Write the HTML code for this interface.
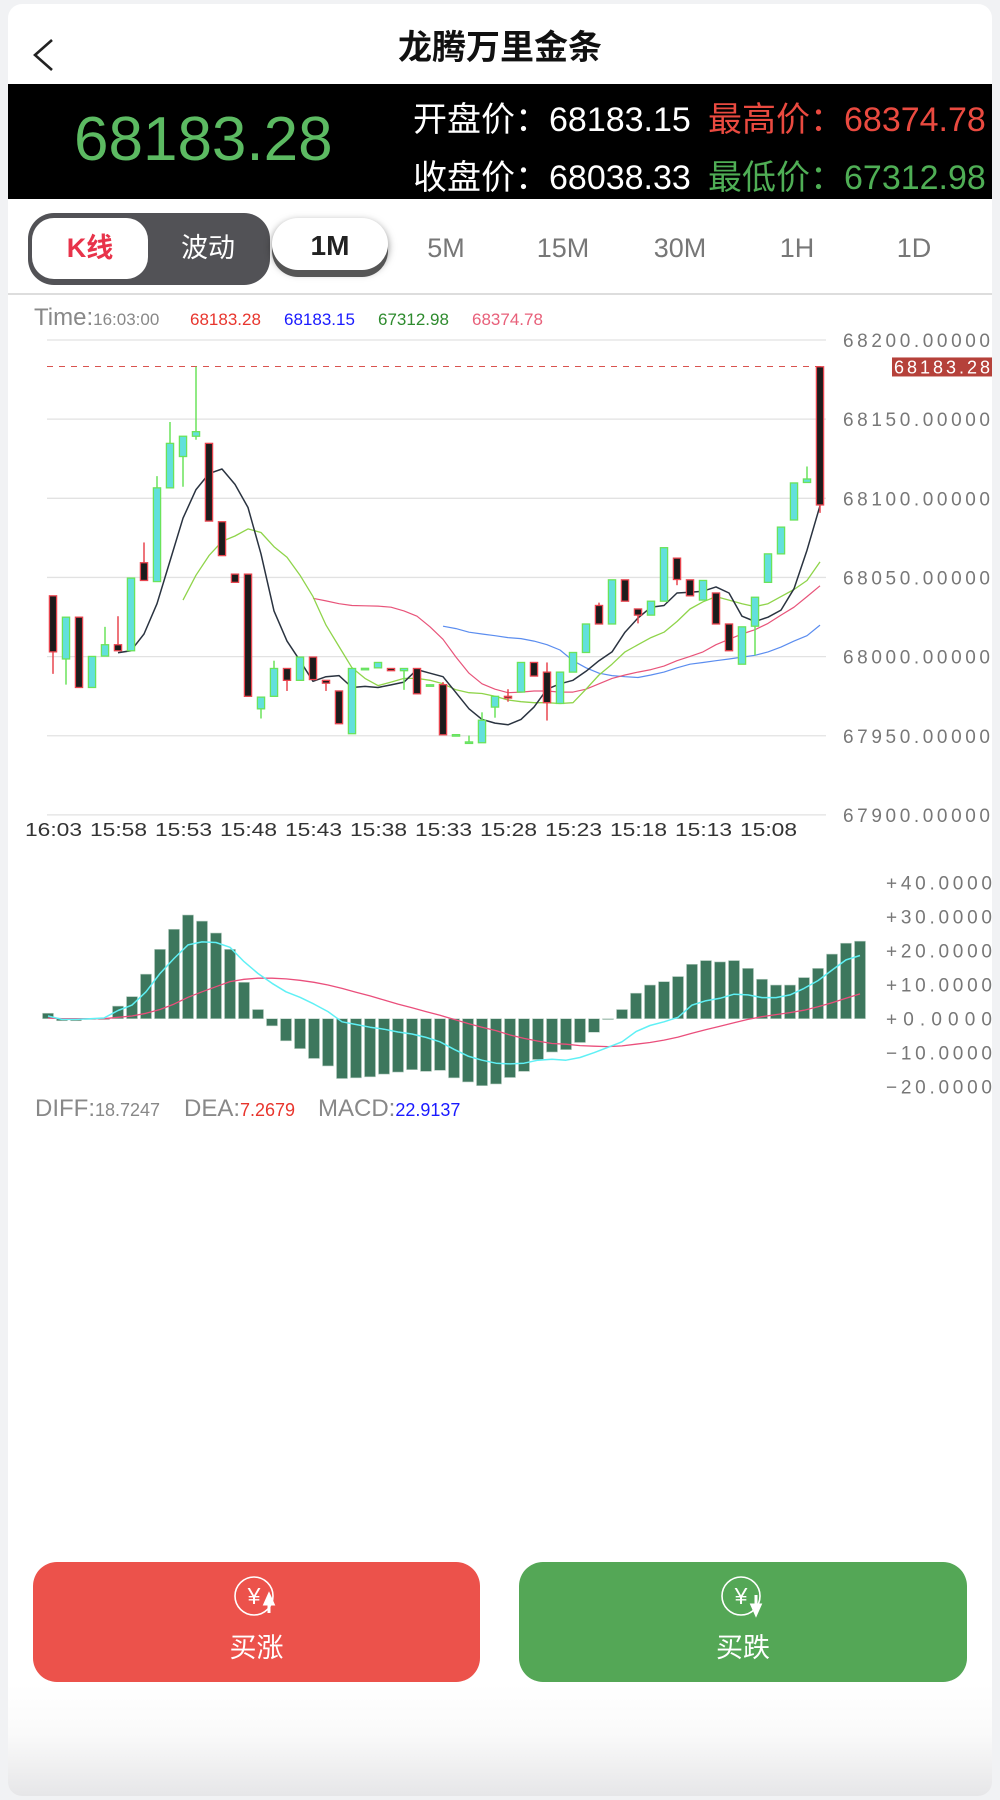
<!DOCTYPE html>
<html><head><meta charset="utf-8">
<style>
html,body{margin:0;padding:0;}
body{width:1000px;height:1800px;background:#f1f2f4;position:relative;overflow:hidden;font-family:"Liberation Sans","Noto Sans CJK SC",sans-serif;}
.card{position:absolute;left:8px;top:4px;width:984px;height:1792px;background:linear-gradient(#fff 0,#fff 1680px,#fafafa 1730px,#e6e6e8 1792px);border-radius:14px;}
.abs{position:absolute;white-space:nowrap;}
</style></head>
<body>
<div class="card"></div>
<svg class="abs" style="left:30px;top:36px" width="26" height="38"><polyline points="22,4 5,19 22,34" fill="none" stroke="#222" stroke-width="2.6"/></svg>
<div class="abs" style="left:0;width:1000px;text-align:center;top:20px;font-size:34px;font-weight:bold;color:#111;">龙腾万里金条</div>

<div class="abs" style="left:8px;top:84px;width:984px;height:115px;background:#000;"></div>
<div class="abs" style="left:74px;top:104px;font-size:62px;color:#5cba62;">68183.28</div>
<div class="abs" style="left:413px;top:92px;font-size:34px;color:#fff;">开盘价：68183.15</div>
<div class="abs" style="left:413px;top:150px;font-size:34px;color:#fff;">收盘价：68038.33</div>
<div class="abs" style="left:708px;top:92px;font-size:34px;color:#ea4a40;">最高价：68374.78</div>
<div class="abs" style="left:708px;top:150px;font-size:34px;color:#4fae55;">最低价：67312.98</div>

<div class="abs" style="left:28px;top:213px;width:242px;height:72px;background:#525256;border-radius:26px;"></div>
<div class="abs" style="left:32px;top:218px;width:116px;height:61px;background:#fff;border-radius:22px;text-align:center;line-height:61px;font-size:27px;font-weight:bold;color:#e8334a;">K线</div>
<div class="abs" style="left:150px;top:218px;width:116px;height:61px;text-align:center;line-height:61px;font-size:27px;color:#fff;">波动</div>
<div class="abs" style="left:272px;top:218px;width:116px;height:52px;background:#fff;border-radius:26px;box-shadow:0 7px 0 #555,0 3px 8px rgba(0,0,0,.5);text-align:center;line-height:56px;font-size:28px;font-weight:bold;color:#222;">1M</div>
<div class="abs" style="left:396px;width:100px;text-align:center;top:233px;font-size:27px;color:#777;">5M</div>
<div class="abs" style="left:513px;width:100px;text-align:center;top:233px;font-size:27px;color:#777;">15M</div>
<div class="abs" style="left:630px;width:100px;text-align:center;top:233px;font-size:27px;color:#777;">30M</div>
<div class="abs" style="left:747px;width:100px;text-align:center;top:233px;font-size:27px;color:#777;">1H</div>
<div class="abs" style="left:864px;width:100px;text-align:center;top:233px;font-size:27px;color:#777;">1D</div>
<div class="abs" style="left:8px;top:293px;width:984px;height:2px;background:#ddd;"></div>

<svg id="chart" class="abs" style="left:0;top:0" width="1000" height="1200">
<text x="34" y="325" font-size="24" fill="#888">Time:<tspan font-size="17">16:03:00</tspan></text>
<text x="190" y="325" font-size="17" fill="#e8352d">68183.28</text>
<text x="284" y="325" font-size="17" fill="#1a1aff">68183.15</text>
<text x="378" y="325" font-size="17" fill="#2e8b2e">67312.98</text>
<text x="472" y="325" font-size="17" fill="#e8607a">68374.78</text>
<text x="35" y="1116" font-size="24" fill="#888">DIFF:<tspan font-size="18">18.7247</tspan></text>
<text x="184" y="1116" font-size="24" fill="#888">DEA:<tspan font-size="18" fill="#e8352d">7.2679</tspan></text>
<text x="318" y="1116" font-size="24" fill="#888">MACD:<tspan font-size="18" fill="#1a1aff">22.9137</tspan></text>
</svg>

<div class="abs" style="left:33px;top:1562px;width:447px;height:120px;background:#ec524b;border-radius:24px;color:#fff;text-align:center;">
<svg width="48" height="44" style="position:absolute;left:200px;top:12px"><circle cx="21" cy="22" r="19" fill="none" stroke="#fff" stroke-width="1.6"/><text x="21" y="30" font-size="23" fill="#fff" text-anchor="middle">¥</text><path d="M36,39 V26 M32,30 L36,21 L40,30Z" stroke="#fff" stroke-width="3" fill="#fff"/></svg>
<div style="position:absolute;left:0;width:100%;top:64px;font-size:27px;">买涨</div></div>
<div class="abs" style="left:519px;top:1562px;width:448px;height:120px;background:#54a756;border-radius:24px;color:#fff;text-align:center;">
<svg width="48" height="44" style="position:absolute;left:201px;top:12px"><circle cx="21" cy="22" r="19" fill="none" stroke="#fff" stroke-width="1.6"/><text x="21" y="30" font-size="23" fill="#fff" text-anchor="middle">¥</text><path d="M36,21 V33 M32,31 L36,40 L40,31Z" stroke="#fff" stroke-width="3" fill="#fff"/></svg>
<div style="position:absolute;left:0;width:100%;top:64px;font-size:27px;">买跌</div></div>

<script>
const opens=[68038.4,67998.5,68024.9,67980.5,68000.3,68007.5,68003.7,68059.3,68047.4,68106.6,68126.4,68139.2,68134.7,68085.2,68052.1,68052.1,67967.0,67974.9,67992.5,67985.0,67999.7,67985.0,67978.3,67951.3,67992.4,67992.9,67992.5,67991.1,67992.5,67982.0,67982.3,67950.5,67945.2,67945.6,67968.1,67974.9,67977.6,67996.3,67990.2,67970.4,67990.2,68002.6,68032.3,68020.6,68048.5,68030.1,68026.2,68035.0,68062.2,68048.5,68035.7,68040.2,68020.6,67995.2,68019.2,68046.9,68064.9,68086.3,68110.0,68183.1];
const closes=[68003.0,68024.9,67980.5,68000.1,68007.5,68003.7,68049.6,68048.1,68106.6,68134.7,68139.2,68142.1,68085.6,68063.8,68046.9,67974.9,67974.4,67992.5,67985.0,67999.7,67985.5,67983.2,67957.6,67992.5,67992.6,67996.3,67991.1,67992.5,67976.5,67982.2,67950.6,67950.7,67946.1,67959.8,67974.9,67973.8,67996.3,67987.7,67970.9,67990.2,68002.6,68020.6,68020.6,68048.5,68035.0,68026.2,68035.0,68068.8,68048.7,68038.4,68048.1,68020.6,68003.7,68018.8,68037.5,68064.9,68081.8,68109.7,68112.2,68095.8];
const highs=[68038.4,68024.9,68024.9,68000.1,68018.8,68025.5,68049.6,68072.1,68114.0,68148.2,68139.2,68183.1,68134.7,68085.2,68052.1,68052.1,67974.4,67997.4,67992.5,67999.7,67999.7,67985.0,67978.3,67992.5,67992.6,67996.3,67992.5,67992.5,67992.5,67982.2,67983.9,67950.7,67950.1,67964.8,67974.9,67979.4,67996.3,67996.3,67996.3,67990.2,68002.6,68020.6,68034.1,68048.5,68048.5,68030.1,68035.0,68068.8,68062.2,68048.5,68048.1,68040.2,68020.6,68018.8,68037.5,68064.9,68081.8,68109.7,68120.1,68183.1];
const lows=[67989.1,67982.3,67980.5,67980.5,68000.3,68003.7,68003.7,68048.1,68047.4,68106.6,68107.3,68137.0,68085.6,68063.8,68046.9,67974.9,67960.9,67974.9,67978.3,67985.0,67985.5,67978.3,67957.6,67951.3,67992.4,67992.9,67991.1,67979.0,67976.5,67982.0,67950.6,67950.5,67945.2,67945.6,67961.4,67971.5,67977.6,67987.7,67959.6,67970.4,67990.2,68002.6,68020.6,68020.6,68035.0,68021.0,68026.2,68035.0,68045.1,68038.4,68035.7,68020.6,68003.7,67995.2,68000.8,68046.9,68064.9,68086.3,68110.0,68090.8];
const ma5Start=5;
const ma5=[68002.4,68003.7,68014.3,68033.4,68060.4,68087.4,68105.5,68115.6,68118.5,68108.8,68094.2,68064.9,68028.9,68009.8,67997.4,67984.4,67987.3,67988.0,67980.5,67981.2,67980.5,67982.1,67983.9,67991.8,67989.5,67987.3,67977.2,67967.0,67960.3,67958.0,67956.9,67960.3,67968.1,67979.4,67982.8,67985.0,67990.7,67997.4,68003.0,68015.4,68024.4,68031.2,68032.3,68040.2,68040.6,68041.3,68044.0,68040.2,68025.5,68022.2,68024.9,68029.4,68042.9,68067.2,68095.3];
const ma10Start=10;
const ma10=[68035.7,68051.4,68063.8,68072.8,68076.2,68080.7,68078.4,68069.4,68062.7,68051.4,68037.9,68019.9,68006.4,67992.9,67986.2,67981.7,67983.9,67986.2,67986.2,67985.0,67982.8,67979.0,67977.2,67976.7,67974.9,67972.6,67971.5,67970.9,67970.9,67970.4,67970.9,67979.4,67988.4,67995.2,68003.0,68007.5,68012.0,68015.4,68022.2,68030.1,68034.6,68037.9,68035.7,68033.4,68031.6,68033.4,68037.9,68042.4,68048.1,68059.8];
const ma20Start=20;
const ma20=[68036.8,68035.2,68033.4,68032.3,68032.1,68031.9,68031.2,68028.9,68025.5,68018.8,68010.9,67999.7,67989.5,67982.8,67979.4,67977.2,67977.6,67978.3,67978.3,67977.6,67977.6,67979.4,67982.8,67986.2,67988.4,67990.2,67991.8,67994.0,67997.4,68000.1,68003.0,68007.5,68010.9,68014.3,68017.0,68021.0,68026.2,68031.2,68037.9,68044.7];
const ma30Start=30;
const ma30=[68019.2,68017.7,68015.4,68014.3,68013.2,68012.0,68011.4,68009.8,68007.5,68004.2,67997.4,67992.9,67989.5,67988.0,67987.3,67986.8,67988.4,67990.2,67992.9,67995.2,67996.3,67997.4,67998.5,67999.7,68000.8,68003.0,68006.0,68009.8,68013.2,68019.9];
const priceTicks=[68200,68150,68100,68050,68000,67950,67900];
const priceTickLabels=["68200.00000","68150.00000","68100.00000","68050.00000","68000.00000","67950.00000","67900.00000"];
const timeLabels=["16:03","15:58","15:53","15:48","15:43","15:38","15:33","15:28","15:23","15:18","15:13","15:08"];
const lastPrice=68183.28;
const macdHist=[1.6,-0.6,-0.6,0,0,3.7,6.5,13.1,20.4,26.3,30.5,28.7,25.2,20.4,10.7,2.7,-2.1,-6.5,-8.8,-11.7,-13.9,-17.6,-17.4,-17.1,-16.3,-15.7,-15.0,-15.5,-15.2,-17.4,-18.6,-19.7,-19.2,-17.3,-15.5,-12.0,-9.8,-9.1,-7.0,-4.0,-0.2,2.7,7.5,9.9,10.9,12.4,16.0,17.1,16.7,17.1,14.8,11.6,9.9,9.9,12.1,14.8,19.0,22.2,22.8];
const diffVals=[0.8,-0.2,-0.2,0,0.2,2.4,4.0,7.9,13.3,17.7,21.7,22.6,22.4,21.0,16.8,13.3,10.4,7.9,6.3,4.3,2.1,-0.9,-1.7,-2.5,-3.1,-3.9,-4.5,-5.5,-6.8,-9.0,-11.0,-12.2,-13.1,-13.3,-13.1,-12.2,-11.9,-12.2,-11.4,-10.0,-8.4,-6.8,-3.8,-2.0,-0.9,0.4,4.0,5.3,6.0,7.2,7.0,6.2,6.2,7.0,8.9,11.2,14.3,17.3,18.6];
const deaVals=[0.2,0,0,0,0,0.4,0.8,1.6,2.7,4.3,6.3,7.9,9.4,10.9,11.6,11.9,11.9,11.7,11.3,10.7,9.9,8.9,7.8,6.7,5.5,4.3,3.2,2.1,1.0,-0.2,-1.4,-2.5,-3.5,-4.8,-5.8,-6.6,-7.3,-7.5,-7.9,-8.1,-8.2,-8.0,-7.5,-7.0,-6.3,-5.4,-4.3,-3.2,-2.2,-1.2,-0.2,0.6,1.2,1.8,2.5,3.5,4.7,6.0,7.3];
const macdTicks=[40,30,20,10,0,-10,-20];
const macdTickLabels=["+40.0000","+30.0000","+20.0000","+10.0000","+0.0000","\u221210.0000","\u221220.0000"];

const NS="http://www.w3.org/2000/svg";
const svg=document.getElementById('chart');
function mk(tag,attrs){const e=document.createElementNS(NS,tag);for(const k in attrs)e.setAttribute(k,attrs[k]);svg.appendChild(e);return e;}
const xC=i=>53+i*13.0;
const yP=v=>340+(68200-v)*1.583;
const xM=i=>48+i*14.0;
const yM=v=>1018.7-v*3.4;

priceTicks.forEach((t,i)=>{
  const l=mk('line',{x1:47,x2:826,y1:yP(t),y2:yP(t),stroke:'#e2e2e2','stroke-width':1.3});
  
  
  const tx=mk('text',{x:843,y:yP(t)+7,'font-size':19,fill:'#777',textLength:147,lengthAdjust:'spacing'});
  tx.textContent=priceTickLabels[i];
  
  
});
const dl=mk('line',{x1:47,x2:826,y1:yP(lastPrice),y2:yP(lastPrice),stroke:'#d9534f','stroke-width':1,'stroke-dasharray':'6,6'});


const tag=mk('rect',{x:892,y:yP(lastPrice)-9,width:100,height:19,fill:'#b5413a'});


const tagt=mk('text',{x:894,y:yP(lastPrice)+7,'font-size':18,fill:'#fff',textLength:96,lengthAdjust:'spacing'});
tagt.textContent=lastPrice.toFixed(2);



timeLabels.forEach((t,i)=>{
  const tx=mk('text',{x:25+i*65,y:836,'font-size':18,fill:'#333',textLength:57,lengthAdjust:'spacingAndGlyphs'});
  tx.textContent=t;
  
  
});

function line(arr,start,xf,yf,color,w,name){
  const pts=arr.map((v,k)=>xf(k+start).toFixed(1)+','+yf(v).toFixed(1)).join(' ');
  const p=mk('polyline',{points:pts,fill:'none',stroke:color,'stroke-width':w,'stroke-linejoin':'round'});
  
  
}
line(ma30,ma30Start,xC,yP,'#5b8def',1.2,'ma30-line');
line(ma20,ma20Start,xC,yP,'#e8547a',1.2,'ma20-line');
line(ma10,ma10Start,xC,yP,'#8fd44a',1.3,'ma10-line');
line(ma5,ma5Start,xC,yP,'#2a3340',1.5,'ma5-line');

opens.forEach((o,i)=>{
  const c=closes[i],up=c>=o;
  const stroke=up?'#6be35a':'#e8454f',fill=up?'#62e0dc':'#1c1c1c';
  const x=xC(i);
  const w=mk('line',{x1:x,x2:x,y1:yP(highs[i]),y2:yP(lows[i]),stroke:stroke,'stroke-width':1.5});
  
  
  const top=yP(Math.max(o,c)),h=Math.max(1.5,yP(Math.min(o,c))-top);
  const r=mk('rect',{x:x-3.6,y:top,width:7.2,height:h,fill:fill,stroke:stroke,'stroke-width':1.3});
  
  
});

macdTicks.forEach((t,i)=>{
  const tx=mk('text',{x:886,y:yM(t)+7,'font-size':19,fill:'#777',textLength:106,lengthAdjust:'spacing'});
  tx.textContent=macdTickLabels[i];
  
  
});
macdHist.forEach((v,i)=>{
  const y0=yM(0),y1=yM(v);
  const r=mk('rect',{x:xM(i)-5.5,y:Math.min(y0,y1),width:11,height:Math.max(0.8,Math.abs(y1-y0)),fill:'#3d775d',stroke:'#b9cfc4','stroke-width':0.6});
  
  
});
line(deaVals,0,xM,yM,'#ea4f7c',1.3,'dea-line');
line(diffVals,0,xM,yM,'#5ff0f5',1.5,'diff-line');
</script>
</body></html>
